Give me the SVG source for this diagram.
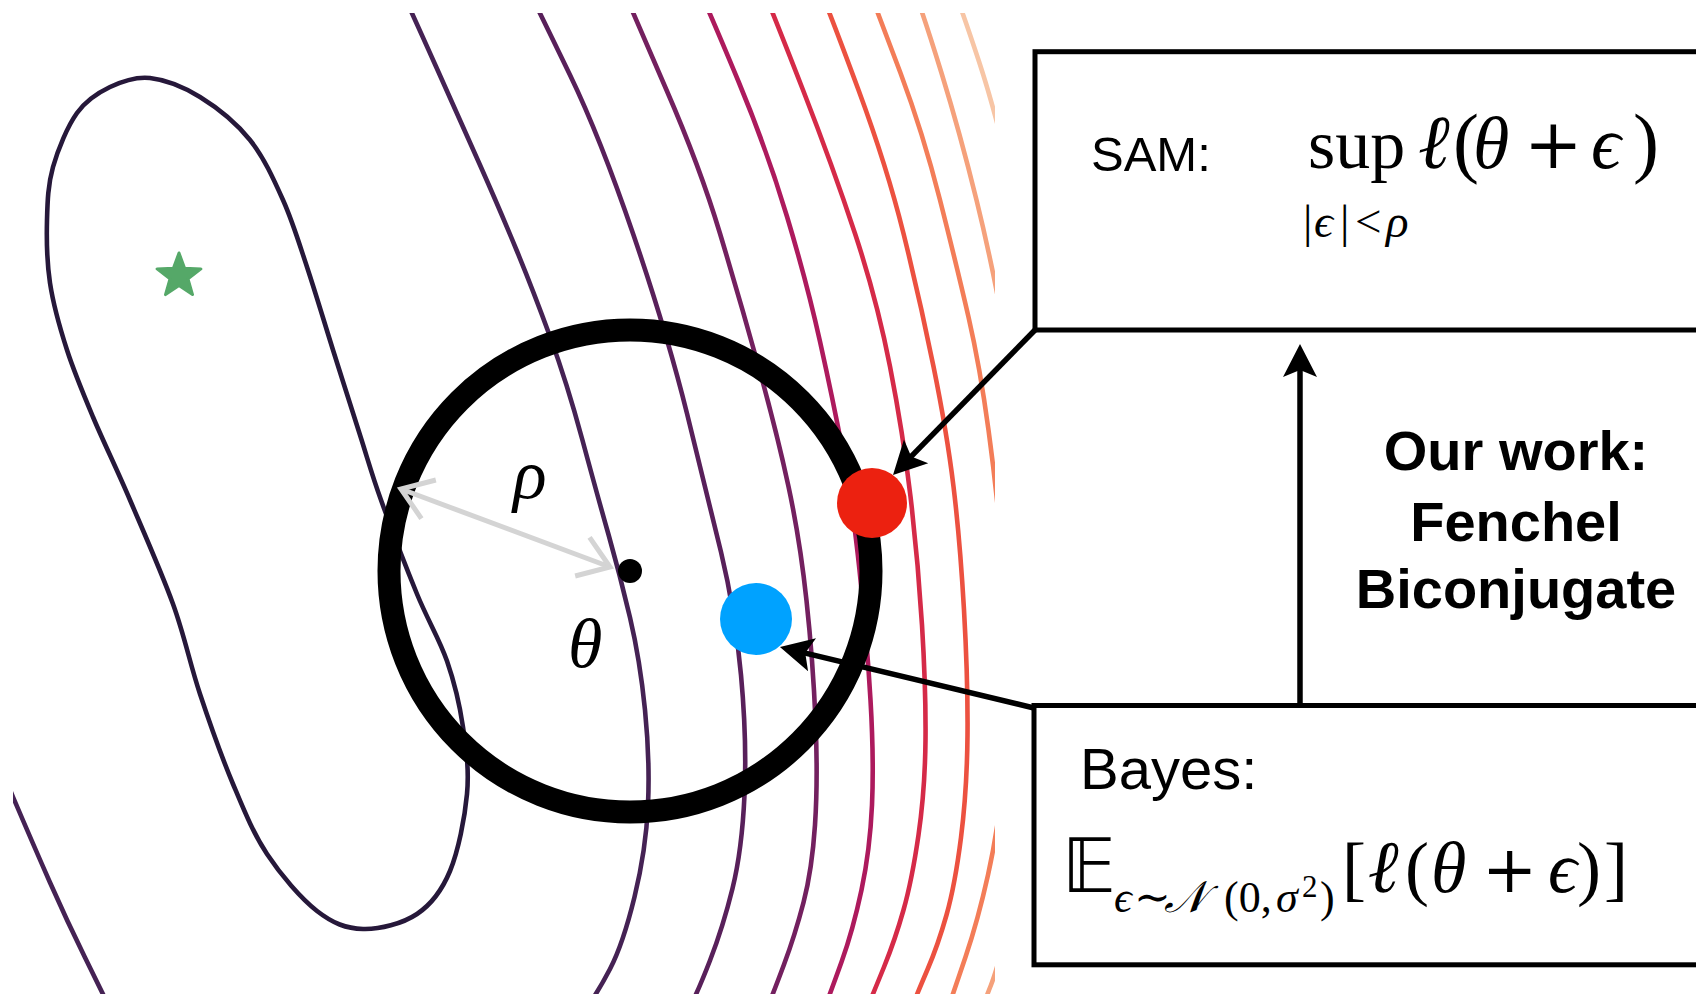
<svg xmlns="http://www.w3.org/2000/svg" width="1696" height="994" viewBox="0 0 1696 994">
<style>
.ct{fill:none;stroke-width:4.6;stroke-linecap:butt}
.box{fill:none;stroke:#000;stroke-width:5}
.arr{fill:none;stroke:#000;stroke-width:5.5}
.sans{font-family:"Liberation Sans",Arial,sans-serif;fill:#000}
.bold{font-family:"Liberation Sans",Arial,sans-serif;font-weight:bold;fill:#000}
.m{font-family:"Liberation Serif","DejaVu Serif",serif;fill:#000}
.mi{font-family:"Liberation Serif","DejaVu Serif",serif;font-style:italic;fill:#000}
.dv{font-family:"DejaVu Serif","Liberation Serif",serif;fill:#000}
.bb{font-family:"DejaVu Sans","DejaVu Serif","Noto Sans",serif;fill:#000}
</style>
<defs>
<clipPath id="plot"><rect x="13" y="13" width="982" height="990"/></clipPath>
<marker id="ah" markerUnits="userSpaceOnUse" markerWidth="40" markerHeight="40" viewBox="-12 -20 40 40" refX="0" refY="0" orient="auto">
<path d="M24,0 L-9,-17 L-2,0 L-9,17 Z" fill="#000"/>
</marker>
<marker id="chev" markerUnits="userSpaceOnUse" markerWidth="50" markerHeight="50" viewBox="-40 -25 50 50" refX="0" refY="0" orient="auto-start-reverse">
<path d="M-29.5,-20.6 L0,0 L-29.5,20.6" fill="none" stroke="#d4d4d4" stroke-width="5"/>
</marker>
</defs>
<rect x="0" y="0" width="1696" height="994" fill="#fff"/>

<g id="contours" clip-path="url(#plot)">
<path class="ct" stroke="#26183a" d="M 150 78 C 165 79.7 183.3 86.7 200 97 C 216.7 107.3 236.2 122.8 250 140 C 263.8 157.2 273.5 178.8 283 200 C 292.5 221.2 298.7 242 307 267 C 315.3 292 324.2 322 333 350 C 341.8 378 352 410 360 435 C 368 460 371.5 473.5 381 500 C 390.5 526.5 406 567.2 417 594 C 428 620.8 439.3 638.8 447 661 C 454.7 683.2 459.7 704.8 463 727 C 466.3 749.2 469.2 770 467 794 C 464.8 818 458.3 851 450 871 C 441.7 891 431.5 904.3 417 914 C 402.5 923.7 379.7 929.5 363 929 C 346.3 928.5 333 923.5 317 911 C 301 898.5 281 875.2 267 854 C 253 832.8 244.2 810.7 233 784 C 221.8 757.3 210 724 200 694 C 190 664 184.7 636.3 173 604 C 161.3 571.7 143.3 531.2 130 500 C 116.7 468.8 103.5 442 93 417 C 82.5 392 74.2 372.3 67 350 C 59.8 327.7 53.3 304.7 50 283 C 46.7 261.3 46.5 239.3 47 220 C 47.5 200.7 48 184.8 53 167 C 58 149.2 67.5 126.3 77 113 C 86.5 99.7 97.8 92.8 110 87 C 122.2 81.2 135 76.3 150 78 Z"/>
<path class="ct" stroke="#452254" d="M 400 -13 Q 412 13 436 66.5 Q 460 120 480 165 Q 500 210 516.5 250 Q 533 290 550 336.5 Q 567 383 582 438.5 Q 597 494 608.5 534.5 Q 620 575 630 617.5 Q 640 660 645 710 Q 650 760 648 805 Q 646 850 634.5 897 Q 623 944 610 969 Q 597 994 583.5 1012 L 570 1030"/>
<path class="ct" stroke="#452254" d="M 0 765 L 13 797 Q 33 844 50 882.5 Q 67 921 85 957.5 Q 103 994 110.5 1009.5 L 118 1025"/>
<path class="ct" stroke="#58205a" d="M 527 -13 Q 540 13 570 75 Q 600 137 633.5 235 Q 667 333 687 413.5 Q 707 494 721 552 Q 735 610 741 675 Q 747 740 744.5 795 Q 742 850 732.5 888.5 Q 723 927 710 960.5 Q 697 994 688.5 1009.5 L 680 1025"/>
<path class="ct" stroke="#73205f" d="M 622 -13 Q 633 13 666.5 90 Q 700 167 720 233.5 Q 740 300 758.5 366.5 Q 777 433 788.5 486.5 Q 800 540 806.5 600.5 Q 813 661 815.5 720.5 Q 818 780 815 825 Q 812 870 803.5 902.5 Q 795 935 784 964.5 Q 773 994 766.5 1009.5 L 760 1025"/>
<path class="ct" stroke="#ad1a5d" d="M 698 -13 Q 710 13 738.5 81.5 Q 767 150 787 216.5 Q 807 283 820 341.5 Q 833 400 842.5 450 Q 852 500 859.5 570 Q 867 640 870.5 700 Q 874 760 872 805 Q 870 850 861.5 890 Q 853 930 841.5 962 Q 830 994 824 1009.5 L 818 1025"/>
<path class="ct" stroke="#d52a48" d="M 762 -13 Q 773 13 803 90 Q 833 167 855 233.5 Q 877 300 890 366.5 Q 903 433 910.5 496.5 Q 918 560 922 625 Q 926 690 925.5 740 Q 925 790 918.5 835 Q 912 880 903.5 910 Q 895 940 884 967 Q 873 994 866.5 1009.5 L 860 1025"/>
<path class="ct" stroke="#ec5140" d="M 819 -13 Q 830 13 858.5 90 Q 887 167 903.5 233.5 Q 920 300 933.5 366.5 Q 947 433 953.5 486.5 Q 960 540 964 610 Q 968 680 967.5 735 Q 967 790 961 837.5 Q 955 885 946.5 915 Q 938 945 927.5 969.5 Q 917 994 911 1009.5 L 905 1025"/>
<path class="ct" stroke="#f37d58" d="M 868 -13 Q 878 13 900.5 73 Q 923 133 940 200 Q 957 267 968.5 317 Q 980 367 988.5 430 Q 997 493 1002.5 556.5 Q 1008 620 1008 675 Q 1008 730 1003 780 Q 998 830 988 875 Q 978 920 965.5 957 Q 953 994 947.5 1009.5 L 942 1025"/>
<path class="ct" stroke="#f5a17b" d="M 913 -13 Q 923 13 941.5 73 Q 960 133 976.5 200 Q 993 267 1006.5 343.5 Q 1020 420 1027.5 510 Q 1035 600 1035 680 Q 1035 760 1027.5 820 Q 1020 880 1008.5 925 Q 997 970 991 985 Q 985 1000 980 1015 L 975 1030"/>
<path class="ct" stroke="#f7c5a5" d="M 953 -13 Q 963 13 979 61.5 Q 995 110 1012.5 185"/>
</g>

<g id="minimum">
<polygon points="179,253 184.6,268.3 200.9,268.9 188,278.9 192.5,294.6 179,285.5 165.5,294.6 170,278.9 157.1,268.9 173.4,268.3" fill="#55a868" stroke="#55a868" stroke-width="3" stroke-linejoin="round"/>
</g>

<g id="ball">
<circle cx="630" cy="571" r="241" fill="none" stroke="#000" stroke-width="23"/>
</g>

<g id="radius">
<path d="M 401 489 L 610 567" fill="none" stroke="#d4d4d4" stroke-width="5" marker-start="url(#chev)" marker-end="url(#chev)"/>
<text class="mi" x="513" y="498" font-size="70">ρ</text>
</g>

<g id="theta">
<circle cx="630" cy="571" r="12" fill="#000"/>
<text class="mi" x="568" y="667" font-size="70">θ</text>
</g>

<g id="sam-point">
<circle cx="872" cy="503" r="35" fill="#ec2110"/>
</g>

<g id="bayes-point">
<circle cx="756" cy="619" r="36" fill="#00a2ff"/>
</g>

<g id="sam-box">
<rect class="box" x="1035" y="51.7" width="700" height="278.3"/>
<text class="sans" x="1091" y="171" font-size="49">SAM:</text>
<text class="m" y="168" font-size="72"><tspan x="1308" font-size="70">sup</tspan><tspan class="dv" font-style="italic" x="1418" font-size="76">ℓ</tspan><tspan x="1453" font-size="78">(</tspan><tspan class="mi" x="1473" font-size="74">θ</tspan><tspan class="dv" x="1524" font-size="70">+</tspan><tspan class="mi" x="1591" font-size="74">ϵ</tspan><tspan x="1633" font-size="78">)</tspan></text>
<text class="m" y="237" font-size="47"><tspan x="1303">|</tspan><tspan class="mi" x="1314">ϵ</tspan><tspan x="1340">|</tspan><tspan x="1355">&lt;</tspan><tspan class="mi" x="1386">ρ</tspan></text>
</g>

<g id="bayes-box">
<rect class="box" x="1034" y="705.5" width="700" height="259.3"/>
<text class="sans" x="1080" y="789" font-size="58">Bayes:</text>
<text class="m" y="892" font-size="72"><tspan class="bb" x="1062" font-size="74">𝔼</tspan><tspan class="mi" x="1114" y="912" font-size="44">ϵ</tspan><tspan x="1134" y="912" font-size="44">∼</tspan><tspan class="bb" x="1164" y="912" font-size="44" font-style="italic">𝒩</tspan><tspan x="1224" y="912" font-size="44">(0,</tspan><tspan class="mi" x="1276" y="912" font-size="44">σ</tspan><tspan x="1302" y="897" font-size="31">2</tspan><tspan x="1320" y="912" font-size="44">)</tspan><tspan x="1342" y="892">[</tspan><tspan class="dv" font-style="italic" x="1368" font-size="74">ℓ</tspan><tspan x="1405">(</tspan><tspan class="mi" x="1431">θ</tspan><tspan class="dv" x="1482" font-size="66">+</tspan><tspan class="mi" x="1548">ϵ</tspan><tspan x="1577">)</tspan><tspan x="1604">]</tspan></text>
</g>

<g id="our-work">
<text class="bold" text-anchor="middle" font-size="56"><tspan x="1516" y="470">Our work:</tspan><tspan x="1516" y="541">Fenchel</tspan><tspan x="1516" y="608">Biconjugate</tspan></text>
</g>

<g id="connectors">
<line class="arr" x1="1035" y1="330" x2="909.8" y2="457.9" marker-end="url(#ah)"/>
<line class="arr" x1="1034" y1="708" x2="803.3" y2="652.6" marker-end="url(#ah)"/>
<line class="arr" x1="1300" y1="705" x2="1300" y2="368" marker-end="url(#ah)"/>
</g>
</svg>
